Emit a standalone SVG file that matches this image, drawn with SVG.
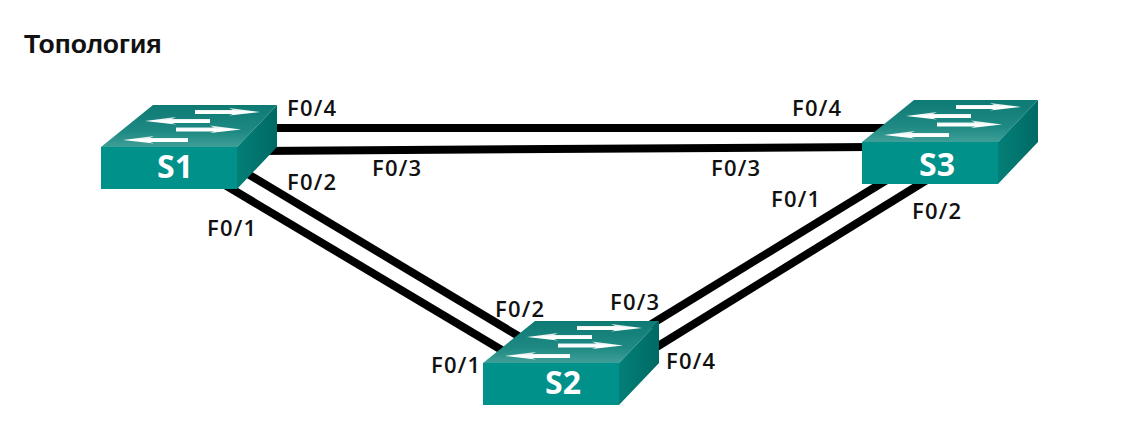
<svg xmlns="http://www.w3.org/2000/svg" width="1121" height="441" viewBox="0 0 1121 441">
<style>
.l{font-family:"Open Sans","Liberation Sans",sans-serif;font-size:22px;font-weight:600;letter-spacing:1.2px;fill:#111}
.t{font-family:"Liberation Sans",Arial,sans-serif;font-size:26.5px;font-weight:700;fill:#111}
.n{font-family:"Open Sans","Liberation Sans",sans-serif;font-size:32px;font-weight:700;fill:#fff;text-anchor:middle}
.c{stroke:#000;stroke-width:8;fill:none}
</style>
<defs>
<linearGradient id="top" x1="0" y1="1" x2="0" y2="0"><stop offset="0" stop-color="#3f9f98"/><stop offset="0.35" stop-color="#1f8a83"/><stop offset="1" stop-color="#0e7a74"/></linearGradient>
<linearGradient id="side" x1="0" y1="0" x2="1" y2="0"><stop offset="0" stop-color="#037f78"/><stop offset="1" stop-color="#006a64"/></linearGradient>
<linearGradient id="ar" x1="0" y1="0" x2="0" y2="1"><stop offset="0" stop-color="#c9dedc"/><stop offset="0.5" stop-color="#ffffff"/><stop offset="1" stop-color="#ffffff"/></linearGradient>
<path id="ra" d="M0-2H38L34-4 65 0 34 3.5 38 2H0Z" fill="url(#ar)"/>
<path id="la" d="M65-2H27L31-4 0 0 31 3.5 27 2H65Z" fill="url(#ar)"/>
<g id="sw">
<path d="M0 0 52-42H176L136 0Z" fill="url(#top)"/>
<path d="M136 0 176-42V0L136 42Z" fill="url(#side)"/>
<rect x="0" y="0" width="136" height="42" fill="#00918a"/>
<use href="#ra" x="94" y="-35"/>
<use href="#la" x="44" y="-26"/>
<use href="#ra" x="75" y="-17.5"/>
<use href="#la" x="22" y="-7"/>
</g>
</defs>
<rect width="1121" height="441" fill="#fff"/>
<text class="t" x="24" y="53">Топология</text>
<g id="connectors">
<path class="c" d="M270 128H890"/>
<path class="c" d="M258 151L870 147"/>
<path class="c" d="M243 171L525 340"/>
<path class="c" d="M225 185L505 352"/>
<path class="c" d="M650 325L890 178"/>
<path class="c" d="M655 348L930 178"/>
</g>
<g id="S1"><use href="#sw" x="101" y="147"/><text class="n" x="175" y="178">S1</text></g>
<g id="S2"><use href="#sw" x="483" y="363"/><text class="n" x="563" y="394">S2</text></g>
<g id="S3"><use href="#sw" x="862" y="142"/><text class="n" x="937" y="176">S3</text></g>
<g id="labels">
<text class="l" x="287" y="116">F0/4</text>
<text class="l" x="372" y="176">F0/3</text>
<text class="l" x="287" y="190">F0/2</text>
<text class="l" x="207" y="236">F0/1</text>
<text class="l" x="792" y="116">F0/4</text>
<text class="l" x="711" y="176">F0/3</text>
<text class="l" x="771" y="207">F0/1</text>
<text class="l" x="912" y="219">F0/2</text>
<text class="l" x="495" y="317">F0/2</text>
<text class="l" x="610" y="310">F0/3</text>
<text class="l" x="431" y="373">F0/1</text>
<text class="l" x="666" y="369">F0/4</text>
</g>
</svg>
